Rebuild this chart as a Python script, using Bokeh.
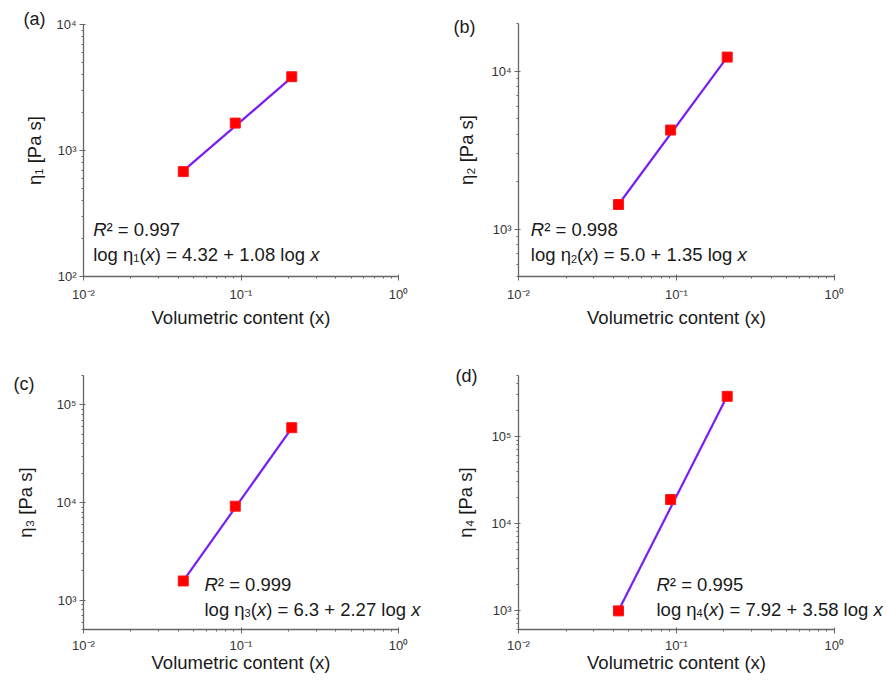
import math
from bokeh.plotting import figure
from bokeh.layouts import column, row
from bokeh.models import Range1d, Label, CustomJSTickFormatter, FixedTicker
from bokeh.embed import file_html
from bokeh.resources import INLINE

# ---------------- data ----------------
x_content = [0.043, 0.092, 0.21]
eta1 = [680, 1650, 3850]
eta2 = [1430, 4240, 12300]
eta3 = [1580, 9200, 58500]
eta4 = [990, 18800, 288000]

fit_x = [0.043, 0.21]
fit1 = [690, 3800]
fit2 = [1430, 12300]
fit3 = [1580, 58000]
fit4 = [1000, 290000]

panel_tags = ["(a)", "(b)", "(c)", "(d)"]
subscripts = ["1", "2", "3", "4"]
y_titles = ["η₁ [Pa s]", "η₂ [Pa s]", "η₃ [Pa s]", "η₄ [Pa s]"]
r2_texts = ["0.997", "0.998", "0.999", "0.995"]
eq_rhs = ["4.32 + 1.08", "5.0 + 1.35", "6.3 + 2.27", "7.92 + 3.58"]
y_limits = [(100, 1e4), (500, 2e4), (500, 2e5), (600, 5e5)]
x_limits = (0.01, 1.0)
x_major_ticks = [0.01, 0.1, 1.0]
y_major_ticks = [[100, 1000, 10000], [1000, 10000], [1000, 10000, 100000],
                 [1000, 10000, 100000]]
x_title = "Volumetric content (x)"

FONT = "Liberation Sans"
FS = 18.5
TXT = "#1a1a1a"
AX = "#666666"

# approximate Arial / Liberation Sans advance widths (per em)
W = {"l": 0.222, "o": 0.556, "g": 0.556, " ": 0.278, "η": 0.556, "(": 0.333,
     ")": 0.333, "=": 0.584, "+": 0.584, ".": 0.278, "x": 0.5, "R": 0.722}
for d in "0123456789":
    W[d] = 0.556


def tw(s, fs=FS):
    return sum(W.get(c, 0.556) for c in s) * fs


def minor_of(majors_lo, majors_hi):
    out = []
    for k in range(majors_lo, majors_hi + 1):
        for m in range(2, 10):
            out.append(m * 10.0 ** k)
    return out


def ext_range(v0, v1, px0, px1, total):
    """log range whose v0 sits at pixel px0 and v1 at px1 of a 0..total span"""
    a, b = math.log10(v0), math.log10(v1)
    k = (b - a) / (px1 - px0)
    return Range1d(10 ** (a - px0 * k), 10 ** (b + (total - px1) * k))


sup_fmt = CustomJSTickFormatter(code="""
const sup = {"-":"\u207b","0":"\u2070","1":"\u00b9","2":"\u00b2","3":"\u00b3",
             "4":"\u2074","5":"\u2075","6":"\u2076","7":"\u2077","8":"\u2078","9":"\u2079"};
const e = Math.round(Math.log10(tick));
return "10" + String(e).split("").map(c => sup[c]).join("");
""")


def lab(p, x, y, dx, dy, text, size=FS, style="normal", baseline="alphabetic"):
    p.add_layout(Label(x=x, y=y, x_offset=dx, y_offset=dy, text=text,
                       text_font=FONT, text_font_size=f"{size}px",
                       text_font_style=style, text_color=TXT,
                       text_baseline=baseline, text_align="left"))


def make_panel(i, ys, fy, w, h, geo, top_row, ylab_standoff, tag_dx, tag_dy,
               eq_dx, eq_dy1, eq_dy2):
    x0, x1 = x_limits
    y0, y1 = y_limits[i]
    axl, axr, ayt, ayb = geo  # pixel geometry of the axes inside the canvas
    xr = ext_range(x0, x1, axl, axr, w)
    yr = ext_range(y0, y1, h - ayb, h - ayt, h)
    p = figure(width=w, height=h, x_axis_type="log", y_axis_type="log",
               x_range=xr, y_range=yr,
               output_backend="svg", toolbar_location=None,
               min_border=0)
    p.outline_line_color = None
    p.xgrid.visible = False
    p.ygrid.visible = False
    p.background_fill_color = "white"
    p.border_fill_color = "white"

    xa, ya = p.xaxis[0], p.yaxis[0]
    xa.fixed_location = y0
    ya.fixed_location = x0
    xa.bounds = (x0, x1)
    ya.bounds = (y0, y1)
    xa.ticker = FixedTicker(ticks=x_major_ticks, minor_ticks=minor_of(-2, -1))
    yk = y_major_ticks[i]
    ya.ticker = FixedTicker(ticks=yk, minor_ticks=[v for v in minor_of(
        int(math.floor(math.log10(y0))), int(math.floor(math.log10(y1))))
        if y0 <= v <= y1])

    for ax in (xa, ya):
        ax.axis_line_color = AX
        ax.axis_line_width = 1.3
        ax.major_tick_line_color = AX
        ax.minor_tick_line_color = AX
        ax.major_tick_out = 4
        ax.major_tick_in = 2
        ax.minor_tick_out = 2
        ax.minor_tick_in = 0
        ax.formatter = sup_fmt
        ax.major_label_text_font = FONT
        ax.major_label_text_font_size = "13px"
        ax.major_label_text_color = "#333333"
        ax.axis_label_text_font = FONT
        ax.axis_label_text_font_size = f"{FS}px"
        ax.axis_label_text_font_style = "normal"
        ax.axis_label_text_color = TXT

    xa.axis_label = x_title
    ya.axis_label = y_titles[i]
    xa.major_label_standoff = 6 if top_row else 4
    xa.axis_label_standoff = 2 if top_row else -4
    ya.major_label_standoff = 3
    ya.axis_label_standoff = ylab_standoff

    p.line(fit_x, fy, line_color="#7a1cf5", line_width=2.2)
    p.scatter(x_content, ys, marker="square", size=10,
              fill_color="#ff0000", line_color="#ff1a1a", line_width=1)

    # panel tag
    lab(p, x0, y1, tag_dx, tag_dy, panel_tags[i], size=18, baseline="middle")

    # equation text
    lab(p, x0, y0, eq_dx, eq_dy1, "R", style="italic")
    lab(p, x0, y0, eq_dx + tw("R"), eq_dy1, "² = " + r2_texts[i])
    s1 = "log η"
    lab(p, x0, y0, eq_dx, eq_dy2, s1)
    cx = eq_dx + tw(s1)
    sub_fs = 11
    lab(p, x0, y0, cx, eq_dy2 - 4, subscripts[i], size=sub_fs)
    cx += tw("1", sub_fs)
    lab(p, x0, y0, cx, eq_dy2, "(")
    cx += tw("(")
    lab(p, x0, y0, cx, eq_dy2, "x", style="italic")
    cx += tw("x")
    s2 = ") = " + eq_rhs[i] + " log "
    lab(p, x0, y0, cx, eq_dy2, s2)
    cx += tw(s2)
    lab(p, x0, y0, cx, eq_dy2, "x", style="italic")
    return p


# geometry: (x-axis left px, x-axis right px, y-axis top px, y-axis bottom px)
pa = make_panel(0, eta1, fit1, 443, 342, (83, 398, 24, 276), True, 8, -60, 6, 9.7, 47.5, 22.5)
pb = make_panel(1, eta2, fit2, 442, 342, (75, 390.7, 23.3, 276), True, 11, -65, -3, 12.3, 47.5, 22)
pc = make_panel(2, eta3, fit3, 443, 340, (83, 398, 33, 287.3), False, 17, -70, -8.5, 121, 45.5, 20.5)
pd = make_panel(3, eta4, fit4, 442, 340, (75, 390.7, 33, 287.3), False, 12, -63, -0.5, 138, 45.5, 20.5)

layout = column(row(pa, pb), row(pc, pd))

open("out.html", "w").write(file_html(layout, INLINE))
